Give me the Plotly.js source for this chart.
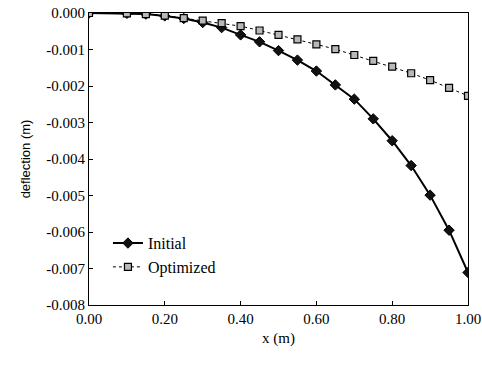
<!DOCTYPE html>
<html><head><meta charset="utf-8">
<script src="https://cdn.plot.ly/plotly-3.0.1.min.js"></script>
<style>html,body{margin:0;padding:0;background:#fff;}</style>
</head><body>
<div id="chart" style="width:482px;height:369px;"></div>
<script>
var xVals = [0.00, 0.10, 0.15, 0.20, 0.25, 0.30, 0.35, 0.40, 0.45, 0.50, 0.55, 0.60, 0.65, 0.70, 0.75, 0.80, 0.85, 0.90, 0.95, 1.00];
var initialVals = [0, -0.00001, -0.00003, -0.00008, -0.00015, -0.00026, -0.00040, -0.00060, -0.00079, -0.00103, -0.00129, -0.00159, -0.00197, -0.00236, -0.00290, -0.00350, -0.00418, -0.00499, -0.00595, -0.00711];
var optimizedVals = [0, -0.00001, -0.00003, -0.00007, -0.00014, -0.00021, -0.00028, -0.00036, -0.00048, -0.00060, -0.00072, -0.00086, -0.00099, -0.00115, -0.00131, -0.00147, -0.00165, -0.00184, -0.00205, -0.00227];
var seriesNames = ["Initial", "Optimized"];
var xTickVals = [0, 0.2, 0.4, 0.6, 0.8, 1.0];
var xTickText = ["0.00", "0.20", "0.40", "0.60", "0.80", "1.00"];
var yTickVals = [0, -0.001, -0.002, -0.003, -0.004, -0.005, -0.006, -0.007, -0.008];
var yTickText = ["0.000", "-0.001", "-0.002", "-0.003", "-0.004", "-0.005", "-0.006", "-0.007", "-0.008"];

var traces = [
  {x: xVals, y: initialVals, name: seriesNames[0], type: 'scatter', mode: 'lines+markers',
   line: {color: '#000', width: 2},
   marker: {symbol: 'diamond', size: 8, color: '#111', line: {color: '#000', width: 1}}},
  {x: xVals, y: optimizedVals, name: seriesNames[1], type: 'scatter', mode: 'lines+markers',
   line: {color: '#000', width: 1, dash: 'dot'},
   marker: {symbol: 'square', size: 7, color: '#b8b8b8', line: {color: '#000', width: 1.2}}}
];

var layout = {
  width: 482, height: 369,
  margin: {l: 89, r: 14, t: 13, b: 64},
  font: {family: 'Liberation Serif', color: '#000', size: 15},
  showlegend: true,
  legend: {x: 0.05, y: 0.27, xanchor: 'left', yanchor: 'top', font: {family: 'Liberation Serif', size: 16}},
  xaxis: {range: [0, 1.0], tickmode: 'array', tickvals: xTickVals, ticktext: xTickText,
          tickfont: {family: 'Liberation Serif', size: 15},
          ticks: 'inside', ticklen: 4, tickcolor: '#000', showline: true, linecolor: '#000', linewidth: 1,
          mirror: true, showgrid: false, zeroline: false,
          title: {text: 'x (m)', font: {family: 'Liberation Serif', size: 15}, standoff: 6}},
  yaxis: {range: [-0.008, 0], tickmode: 'array', tickvals: yTickVals, ticktext: yTickText,
          tickfont: {family: 'Liberation Serif', size: 15},
          ticks: 'inside', ticklen: 4, tickcolor: '#000', showline: true, linecolor: '#000', linewidth: 1,
          mirror: true, showgrid: false, zeroline: false,
          title: {text: 'deflection (m)', font: {family: 'Liberation Sans', size: 13}, standoff: 12}}
};
Plotly.newPlot('chart', traces, layout, {displayModeBar: false});
</script>
</body></html>
